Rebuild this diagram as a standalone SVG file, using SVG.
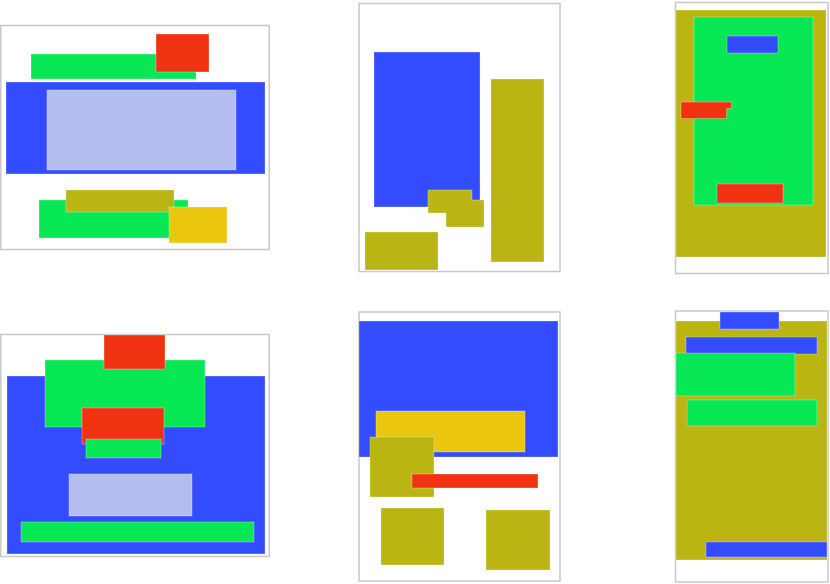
<svg xmlns="http://www.w3.org/2000/svg" width="830" height="584" viewBox="0 0 830 584">
<style>
.frame{fill:#fff;stroke:#c8c8c8;stroke-width:1.5}
.s{stroke:#fff;stroke-opacity:0.3;stroke-width:1}
.b{fill:#334cff}.g{fill:#07e854}.r{fill:#ef3311}.l{fill:#b5bcf0}.o{fill:#bab512}.y{fill:#eac60f}
</style>
<rect width="830" height="584" fill="#fff"/>
<g id="panel1">
<rect class="frame" x="0.75" y="25.5" width="268.5" height="224"/>
<rect class="s g" x="31" y="54" width="165" height="25"/>
<rect class="s r" x="156" y="34" width="53" height="38"/>
<rect class="s b" x="6" y="82" width="259" height="92"/>
<rect class="s l" x="47" y="90" width="189" height="80"/>
<rect class="s g" x="39" y="200" width="149" height="38"/>
<rect class="s o" x="66" y="190" width="108" height="22"/>
<rect class="s y" x="169" y="207" width="58" height="36"/>
</g>
<g id="panel2">
<rect class="frame" x="359" y="3.5" width="201" height="268"/>
<rect class="s b" x="374" y="52" width="106" height="155"/>
<path class="s o" d="M428,190 H472 V200 H484 V227 H446 V213 H428 Z"/>
<rect class="s o" x="365" y="232" width="73" height="38"/>
<rect class="s o" x="491" y="79" width="53" height="183"/>
</g>
<g id="panel3">
<rect class="frame" x="675.5" y="2.5" width="152.5" height="271"/>
<rect class="s o" x="676" y="10" width="150" height="247"/>
<rect class="s g" x="694" y="17" width="119" height="188"/>
<rect class="s b" x="727" y="36" width="51" height="17"/>
<path class="s r" d="M681,102 H731.5 V108.5 H726.5 V118.5 H681 Z"/>
<rect class="s r" x="717" y="184" width="66" height="19"/>
</g>
<g id="panel4">
<rect class="frame" x="0.75" y="334.5" width="268.5" height="222"/>
<rect class="s b" x="7" y="376" width="258" height="178"/>
<rect class="s g" x="45" y="360" width="160" height="67"/>
<rect class="s r" x="104" y="335" width="61" height="34"/>
<rect class="s r" x="82" y="408" width="82" height="36"/>
<rect class="s g" x="86" y="439" width="75" height="19"/>
<rect class="s l" x="69" y="474" width="123" height="42"/>
<rect class="s g" x="21" y="522" width="233" height="20"/>
</g>
<g id="panel5">
<rect class="frame" x="359" y="312" width="201" height="269"/>
<rect class="s b" x="359" y="321" width="199" height="136"/>
<rect class="s y" x="376" y="411" width="149" height="41"/>
<rect class="s o" x="370" y="437" width="64" height="60"/>
<rect class="s r" x="412" y="474" width="126" height="14"/>
<rect class="s o" x="381" y="508" width="63" height="57"/>
<rect class="s o" x="486" y="510" width="64" height="60"/>
</g>
<g id="panel6">
<rect class="frame" x="675.5" y="311" width="152.5" height="271"/>
<rect class="s o" x="676" y="321" width="151" height="239"/>
<rect class="s b" x="720" y="312" width="59" height="17"/>
<rect class="s b" x="686" y="337" width="131" height="17"/>
<rect class="s g" x="676" y="353" width="119" height="43"/>
<rect class="s g" x="687" y="400" width="130" height="26"/>
<rect class="s b" x="706" y="542" width="121" height="15"/>
</g>
</svg>
